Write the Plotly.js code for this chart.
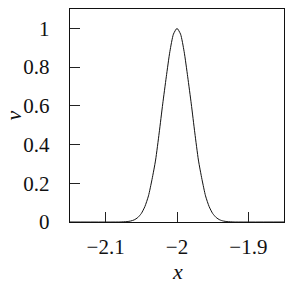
<!DOCTYPE html>
<html>
<head>
<meta charset="utf-8">
<script src="https://cdn.plot.ly/plotly-3.0.1.min.js"></script>
<style>html,body{margin:0;padding:0;background:#fff;}#chart{width:296px;height:284px;}</style>
</head>
<body>
<div id="chart"></div>
<script>
// values
var xValues = [-2.15, -2.08, -2.075, -2.07, -2.065, -2.06, -2.055, -2.05, -2.045, -2.04, -2.035, -2.03, -2.025, -2.02, -2.015, -2.01, -2.005, -2.0,
               -1.995, -1.99, -1.985, -1.98, -1.975, -1.97, -1.965, -1.96, -1.955, -1.95, -1.945, -1.94, -1.935, -1.93, -1.925, -1.92, -1.85];
var vValues = [0, 0, 0.001, 0.002, 0.005, 0.011, 0.023, 0.044, 0.08, 0.135, 0.22, 0.32, 0.46, 0.61, 0.75, 0.88, 0.97, 1.0,
               0.97, 0.88, 0.75, 0.61, 0.46, 0.32, 0.22, 0.135, 0.08, 0.044, 0.023, 0.011, 0.005, 0.002, 0.001, 0, 0];
var xTicks = [-2.1, -2.0, -1.9];
var xTickText = ['\u22122.1', '\u22122', '\u22121.9'];
var yTicks = [0, 0.2, 0.4, 0.6, 0.8, 1];
var yTickText = ['0', '0.2', '0.4', '0.6', '0.8', '1'];
var xTitle = 'x';
var yTitle = 'v';

var fam = 'Liberation Serif';
var font = {family: fam, size: 21, color: '#111'};
var titleFont = {family: fam, size: 22, color: '#111', style: 'italic'};
var data = [{
  x: xValues, y: vValues, type: 'scatter', mode: 'lines',
  line: {color: '#111', width: 1, shape: 'spline', smoothing: 0.6},
  hoverinfo: 'none'
}];
var layout = {
  width: 296, height: 284,
  margin: {l: 70, r: 12, t: 9, b: 62},
  paper_bgcolor: '#fff', plot_bgcolor: '#fff',
  showlegend: false,
  font: font,
  xaxis: {
    range: [-2.15, -1.85], tickvals: xTicks, ticktext: xTickText,
    ticks: 'inside', ticklen: 10, tickwidth: 1, tickcolor: '#222',
    showline: true, mirror: true, linecolor: '#111', linewidth: 1.3,
    showgrid: false, zeroline: false, tickfont: font, ticklabelstandoff: 5
  },
  yaxis: {
    range: [0, 1.1], tickvals: yTicks, ticktext: yTickText,
    ticks: 'inside', ticklen: 10, tickwidth: 1, tickcolor: '#222',
    showline: true, mirror: true, linecolor: '#111', linewidth: 1.3,
    showgrid: false, zeroline: false, tickfont: font, ticklabelstandoff: 15
  },
  annotations: [
    {text: xTitle, xref: 'paper', yref: 'paper', x: 0.5, y: 0, xanchor: 'center', yanchor: 'top',
     yshift: -35, showarrow: false, font: titleFont},
    {text: yTitle, xref: 'paper', yref: 'paper', x: 0, y: 0.5, xanchor: 'center', yanchor: 'middle',
     xshift: -57, textangle: -90, showarrow: false, font: titleFont}
  ]
};
Plotly.newPlot('chart', data, layout, {staticPlot: true, displayModeBar: false});
</script>
</body>
</html>
